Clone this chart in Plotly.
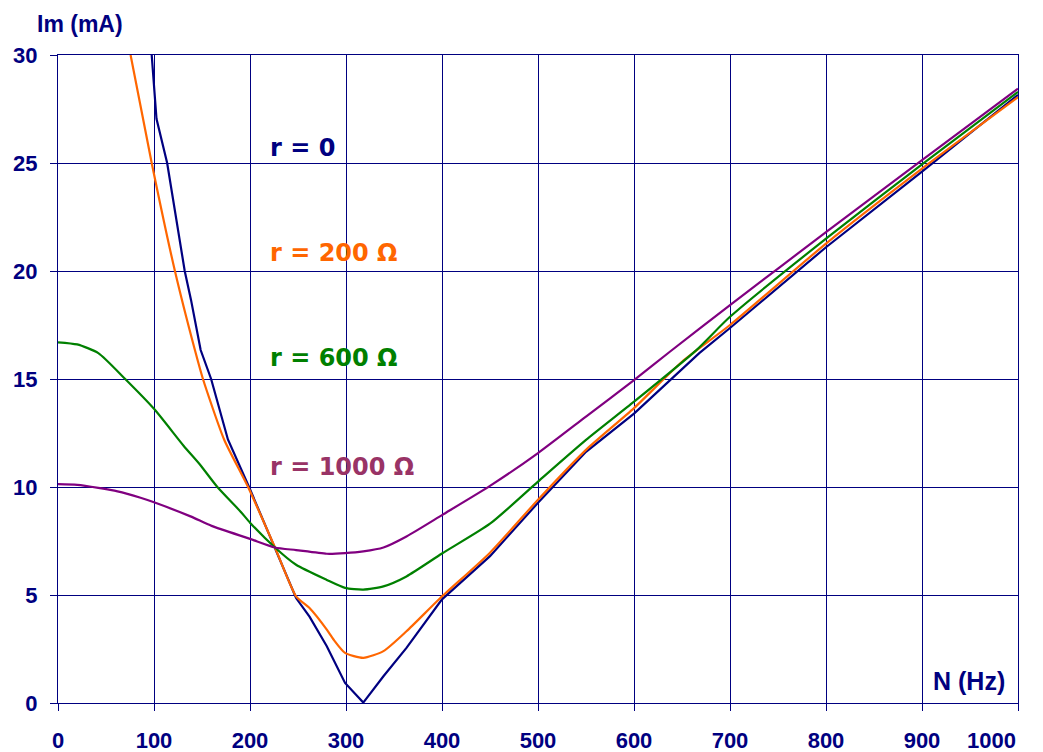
import plotly.graph_objects as go

# r = 0
n_r0 = [97.6, 102.6, 113.7, 132, 138.6, 148.6, 159.5, 177, 199, 226, 248, 262, 280, 299, 318, 339, 363, 400, 450, 500, 550, 600, 668, 700, 800, 900, 1000]
i_r0 = [30, 27.05, 25, 20, 18.65, 16.34, 15, 12.2, 10, 7.2, 4.86, 4.0, 2.63, 0.93, 0.02, 1.24, 2.55, 4.8, 6.8, 9.27, 11.63, 13.4, 16.2, 17.36, 21.1, 24.6, 28.15]

# r = 200 ohm
n_r200 = [75.6, 97.6, 121.8, 142.6, 151, 173, 198, 226, 248, 262, 280, 287, 299, 318, 339, 363, 398, 450, 500, 550, 600, 650, 700, 800, 900, 1000]
i_r200 = [30, 25, 20, 16.34, 15, 12.2, 10, 7.2, 4.94, 4.4, 3.4, 2.94, 2.32, 2.09, 2.4, 3.32, 4.85, 6.96, 9.41, 11.72, 13.65, 15.8, 17.5, 21.27, 24.74, 28.05]

# r = 600 ohm
n_r600 = [0, 20, 42, 70, 100, 131, 148, 166, 190, 200, 226, 248, 280, 299, 318, 339, 363, 400, 450, 500, 550, 600, 665, 700, 800, 900, 1000]
i_r600 = [16.7, 16.6, 16.2, 15, 13.62, 11.9, 11.03, 10, 8.87, 8.35, 7.2, 6.4, 5.7, 5.33, 5.25, 5.4, 5.86, 6.92, 8.3, 10.25, 12.18, 13.95, 16.34, 17.88, 21.5, 24.94, 28.29]

# r = 1000 ohm
n_r1000 = [0, 20, 42, 62, 86, 100, 138, 160, 200, 226, 248, 280, 299, 318, 339, 363, 400, 450, 500, 550, 600, 637, 700, 800, 900, 1000]
i_r1000 = [10.13, 10.1, 9.96, 9.8, 9.5, 9.29, 8.64, 8.2, 7.6, 7.2, 7.08, 6.91, 6.94, 7.02, 7.2, 7.71, 8.7, 10.05, 11.57, 13.26, 14.95, 16.25, 18.42, 21.8, 25.13, 28.44]

x_ticks = [0, 100, 200, 300, 400, 500, 600, 700, 800, 900, 1000]
y_ticks = [0, 5, 10, 15, 20, 25, 30]

labels = ["r = 0", "r = 200 Ω", "r = 600 Ω", "r = 1000 Ω"]
label_x = [219, 219, 219, 219]
label_y = [25.7, 20.83, 15.97, 10.94]
label_colors = ["#000080", "#FF6600", "#008000", "#993366"]

NAVY = "#000080"
TICK_FONT = dict(family="Liberation Sans, Arial", size=22, color=NAVY, weight="bold")

fig = go.Figure()
series = [
    (n_r0, i_r0, "#000080", "linear"),
    (n_r200, i_r200, "#FF6600", "spline"),
    (n_r600, i_r600, "#008000", "spline"),
    (n_r1000, i_r1000, "#800080", "spline"),
]
for n, i, c, shape in series:
    fig.add_trace(go.Scatter(x=n, y=i, mode="lines",
                             line=dict(color=c, width=2.2, shape=shape, smoothing=0.6),
                             showlegend=False, hoverinfo="skip"))

for t, lx, ly, c in zip(labels, label_x, label_y, label_colors):
    fig.add_annotation(x=lx, y=ly, xref="x", yref="y", text="<b>" + t + "</b>",
                       showarrow=False, xanchor="left", yanchor="middle",
                       font=dict(family="DejaVu Sans", size=24, color=c))

fig.add_annotation(x=-0.024, y=1.048, xref="paper", yref="paper", text="<b>Im (mA)</b>",
                   showarrow=False, xanchor="left", yanchor="middle",
                   font=dict(family="Liberation Sans, Arial", size=23, color=NAVY))
fig.add_annotation(x=909, y=1.0, xref="x", yref="y", text="<b>N (Hz)</b>",
                   showarrow=False, xanchor="left", yanchor="middle",
                   font=dict(family="Liberation Sans, Arial", size=25, color=NAVY))

# last x tick label sits flush with the right end of the axis, as in the reference
x_ticktext = [str(v) for v in x_ticks[:-1]] + [""]
fig.add_annotation(x=x_ticks[-1], y=0, xref="x", yref="paper", text="<b>" + str(x_ticks[-1]) + "</b>",
                   showarrow=False, xanchor="right", yanchor="middle", yshift=-37,
                   font=TICK_FONT)

axis_common = dict(showgrid=True, gridcolor=NAVY, gridwidth=1, showline=True,
                   linecolor=NAVY, linewidth=1, mirror=True, ticks="outside",
                   tickcolor=NAVY, ticklen=7, zeroline=False, automargin=False,
                   ticklabeloverflow="allow", tickfont=TICK_FONT)

fig.update_xaxes(range=[0, 1000], tickvals=x_ticks, ticktext=x_ticktext,
                 ticklabelstandoff=11, **axis_common)
fig.update_yaxes(range=[0, 30], tickvals=y_ticks, ticktext=[str(v) for v in y_ticks],
                 ticklabelstandoff=8, **axis_common)

# page body has an 8px margin, so the figure is sized/offset to land the plot at the reference spot
fig.update_layout(width=1035, height=744, margin=dict(l=50, r=25, t=47, b=49),
                  plot_bgcolor="white", paper_bgcolor="white")

fig.write_html("out.html")
